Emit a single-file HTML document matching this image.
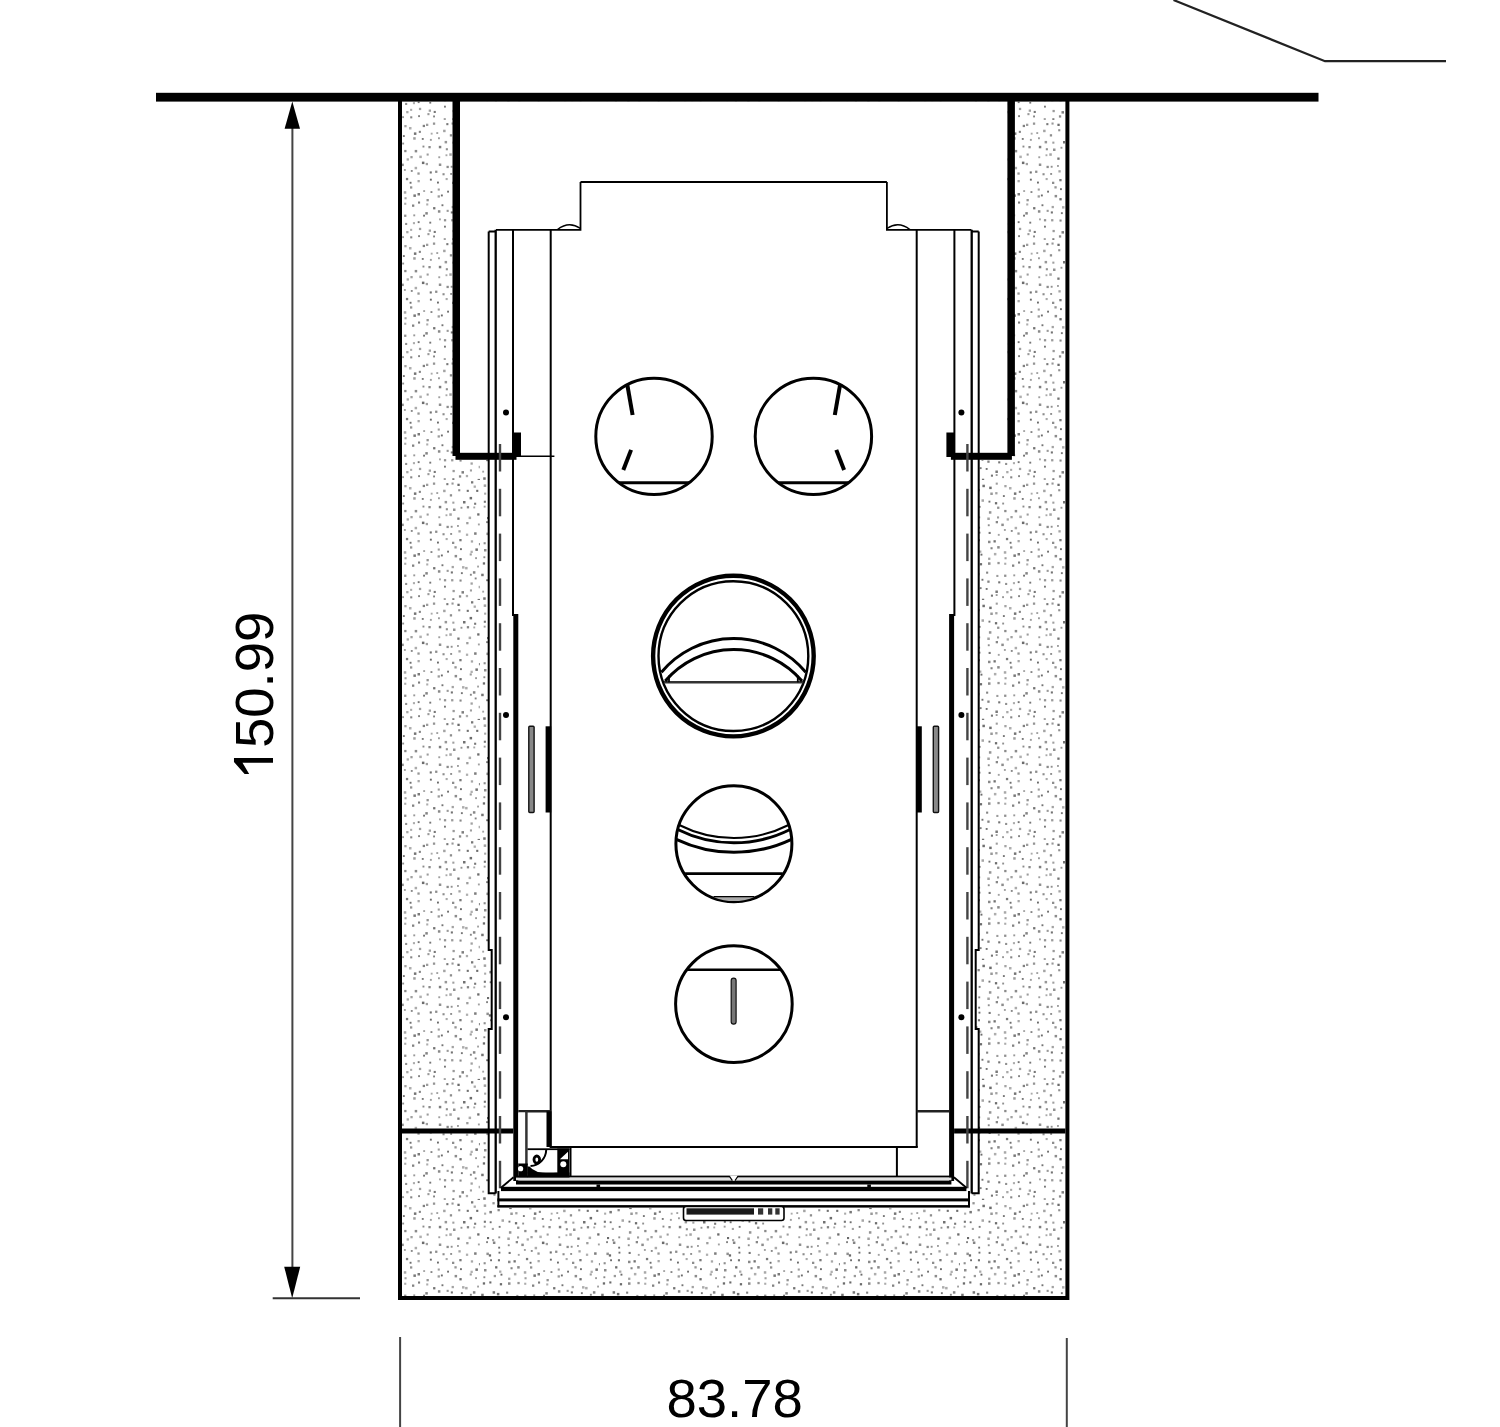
<!DOCTYPE html>
<html><head><meta charset="utf-8"><style>html,body{margin:0;padding:0;background:#fff;overflow:hidden}svg{display:block}text{font-family:"Liberation Sans",sans-serif}</style></head>
<body><svg width="1500" height="1427" viewBox="0 0 1500 1427"><defs><pattern id="st" width="120" height="120" patternUnits="userSpaceOnUse"><rect x="3.7" y="4.4" width="2.5" height="2.5" fill="rgb(162,162,162)"/><rect x="4.1" y="12.6" width="2.1" height="2.1" fill="rgb(170,170,170)"/><rect x="3.8" y="20.7" width="2.1" height="2.1" fill="rgb(117,117,117)"/><rect x="3.7" y="25.7" width="1.9" height="1.9" fill="rgb(155,155,155)"/><rect x="7.0" y="37.0" width="2.1" height="2.1" fill="rgb(106,106,106)"/><rect x="6.1" y="41.2" width="1.9" height="1.9" fill="rgb(129,129,129)"/><rect x="6.4" y="52.6" width="2.5" height="2.5" fill="rgb(146,146,146)"/><rect x="3.6" y="62.2" width="2.1" height="2.1" fill="rgb(142,142,142)"/><rect x="4.0" y="69.0" width="2.5" height="2.5" fill="rgb(140,140,140)"/><rect x="3.4" y="76.3" width="1.9" height="1.9" fill="rgb(137,137,137)"/><rect x="2.8" y="82.3" width="2.3" height="2.3" fill="rgb(108,108,108)"/><rect x="1.2" y="93.7" width="2.5" height="2.5" fill="rgb(118,118,118)"/><rect x="6.2" y="99.3" width="1.9" height="1.9" fill="rgb(105,105,105)"/><rect x="2.2" y="110.7" width="1.9" height="1.9" fill="rgb(165,165,165)"/><rect x="3.2" y="117.3" width="2.5" height="2.5" fill="rgb(114,114,114)"/><rect x="12.4" y="2.1" width="2.3" height="2.3" fill="rgb(148,148,148)"/><rect x="9.4" y="10.9" width="2.5" height="2.5" fill="rgb(120,120,120)"/><rect x="9.7" y="21.3" width="1.9" height="1.9" fill="rgb(112,112,112)"/><rect x="11.8" y="27.9" width="2.1" height="2.1" fill="rgb(162,162,162)"/><rect x="12.1" y="39.1" width="2.1" height="2.1" fill="rgb(158,158,158)"/><rect x="12.9" y="41.5" width="2.5" height="2.5" fill="rgb(132,132,132)"/><rect x="8.8" y="54.3" width="2.3" height="2.3" fill="rgb(107,107,107)"/><rect x="10.1" y="59.3" width="1.9" height="1.9" fill="rgb(110,110,110)"/><rect x="15.1" y="66.2" width="2.3" height="2.3" fill="rgb(106,106,106)"/><rect x="13.7" y="74.9" width="2.3" height="2.3" fill="rgb(154,154,154)"/><rect x="9.3" y="81.4" width="2.1" height="2.1" fill="rgb(106,106,106)"/><rect x="12.6" y="91.2" width="2.5" height="2.5" fill="rgb(121,121,121)"/><rect x="14.9" y="99.9" width="2.1" height="2.1" fill="rgb(154,154,154)"/><rect x="10.0" y="105.8" width="2.1" height="2.1" fill="rgb(136,136,136)"/><rect x="13.4" y="113.8" width="2.1" height="2.1" fill="rgb(154,154,154)"/><rect x="22.4" y="4.7" width="2.5" height="2.5" fill="rgb(111,111,111)"/><rect x="17.5" y="9.0" width="2.3" height="2.3" fill="rgb(135,135,135)"/><rect x="21.5" y="19.3" width="2.5" height="2.5" fill="rgb(167,167,167)"/><rect x="18.7" y="25.9" width="1.9" height="1.9" fill="rgb(121,121,121)"/><rect x="18.3" y="36.4" width="1.9" height="1.9" fill="rgb(140,140,140)"/><rect x="18.2" y="46.7" width="1.9" height="1.9" fill="rgb(113,113,113)"/><rect x="18.5" y="51.7" width="1.9" height="1.9" fill="rgb(110,110,110)"/><rect x="17.9" y="59.2" width="2.1" height="2.1" fill="rgb(116,116,116)"/><rect x="19.1" y="70.5" width="2.3" height="2.3" fill="rgb(171,171,171)"/><rect x="20.5" y="73.7" width="1.9" height="1.9" fill="rgb(107,107,107)"/><rect x="19.8" y="83.1" width="2.3" height="2.3" fill="rgb(109,109,109)"/><rect x="16.9" y="92.9" width="2.5" height="2.5" fill="rgb(113,113,113)"/><rect x="21.5" y="98.8" width="1.9" height="1.9" fill="rgb(114,114,114)"/><rect x="19.7" y="107.2" width="1.9" height="1.9" fill="rgb(121,121,121)"/><rect x="21.9" y="118.7" width="2.3" height="2.3" fill="rgb(115,115,115)"/><rect x="29.2" y="6.6" width="2.5" height="2.5" fill="rgb(108,108,108)"/><rect x="30.3" y="12.5" width="2.5" height="2.5" fill="rgb(153,153,153)"/><rect x="28.5" y="20.7" width="1.9" height="1.9" fill="rgb(116,116,116)"/><rect x="28.9" y="31.2" width="2.5" height="2.5" fill="rgb(147,147,147)"/><rect x="27.3" y="37.5" width="2.5" height="2.5" fill="rgb(161,161,161)"/><rect x="27.8" y="44.3" width="1.9" height="1.9" fill="rgb(144,144,144)"/><rect x="28.6" y="51.9" width="2.1" height="2.1" fill="rgb(119,119,119)"/><rect x="28.0" y="60.7" width="2.5" height="2.5" fill="rgb(137,137,137)"/><rect x="30.5" y="67.2" width="2.1" height="2.1" fill="rgb(130,130,130)"/><rect x="28.1" y="77.6" width="2.3" height="2.3" fill="rgb(161,161,161)"/><rect x="28.0" y="82.3" width="2.5" height="2.5" fill="rgb(137,137,137)"/><rect x="26.1" y="91.6" width="2.1" height="2.1" fill="rgb(132,132,132)"/><rect x="27.3" y="100.5" width="2.3" height="2.3" fill="rgb(131,131,131)"/><rect x="25.7" y="108.0" width="1.9" height="1.9" fill="rgb(113,113,113)"/><rect x="30.9" y="114.6" width="2.1" height="2.1" fill="rgb(119,119,119)"/><rect x="35.7" y="2.6" width="2.1" height="2.1" fill="rgb(157,157,157)"/><rect x="35.2" y="12.1" width="2.3" height="2.3" fill="rgb(162,162,162)"/><rect x="34.9" y="22.1" width="2.3" height="2.3" fill="rgb(110,110,110)"/><rect x="37.1" y="26.6" width="2.3" height="2.3" fill="rgb(144,144,144)"/><rect x="37.0" y="36.4" width="2.1" height="2.1" fill="rgb(156,156,156)"/><rect x="35.7" y="41.0" width="2.3" height="2.3" fill="rgb(135,135,135)"/><rect x="37.8" y="53.9" width="1.9" height="1.9" fill="rgb(162,162,162)"/><rect x="33.5" y="60.2" width="2.3" height="2.3" fill="rgb(114,114,114)"/><rect x="37.2" y="66.1" width="2.5" height="2.5" fill="rgb(137,137,137)"/><rect x="33.9" y="72.9" width="2.5" height="2.5" fill="rgb(173,173,173)"/><rect x="37.4" y="81.9" width="2.3" height="2.3" fill="rgb(149,149,149)"/><rect x="36.3" y="94.9" width="2.1" height="2.1" fill="rgb(155,155,155)"/><rect x="38.2" y="101.3" width="2.1" height="2.1" fill="rgb(116,116,116)"/><rect x="35.4" y="110.5" width="2.5" height="2.5" fill="rgb(121,121,121)"/><rect x="35.7" y="114.1" width="1.9" height="1.9" fill="rgb(153,153,153)"/><rect x="44.3" y="5.0" width="2.3" height="2.3" fill="rgb(164,164,164)"/><rect x="42.9" y="15.1" width="1.9" height="1.9" fill="rgb(120,120,120)"/><rect x="42.2" y="22.6" width="1.9" height="1.9" fill="rgb(144,144,144)"/><rect x="44.2" y="29.9" width="2.3" height="2.3" fill="rgb(138,138,138)"/><rect x="46.6" y="38.3" width="2.3" height="2.3" fill="rgb(169,169,169)"/><rect x="41.3" y="43.6" width="2.5" height="2.5" fill="rgb(140,140,140)"/><rect x="43.9" y="49.0" width="1.9" height="1.9" fill="rgb(159,159,159)"/><rect x="45.9" y="57.9" width="2.3" height="2.3" fill="rgb(122,122,122)"/><rect x="43.8" y="71.2" width="2.5" height="2.5" fill="rgb(168,168,168)"/><rect x="44.5" y="77.2" width="2.1" height="2.1" fill="rgb(161,161,161)"/><rect x="44.2" y="82.7" width="2.1" height="2.1" fill="rgb(171,171,171)"/><rect x="44.1" y="94.6" width="2.3" height="2.3" fill="rgb(144,144,144)"/><rect x="45.1" y="102.9" width="2.1" height="2.1" fill="rgb(143,143,143)"/><rect x="46.2" y="111.0" width="2.3" height="2.3" fill="rgb(168,168,168)"/><rect x="42.1" y="116.2" width="1.9" height="1.9" fill="rgb(153,153,153)"/><rect x="49.0" y="7.0" width="2.5" height="2.5" fill="rgb(174,174,174)"/><rect x="53.9" y="12.4" width="2.5" height="2.5" fill="rgb(116,116,116)"/><rect x="53.2" y="17.2" width="2.5" height="2.5" fill="rgb(157,157,157)"/><rect x="54.7" y="29.9" width="2.5" height="2.5" fill="rgb(139,139,139)"/><rect x="50.4" y="36.0" width="2.3" height="2.3" fill="rgb(160,160,160)"/><rect x="54.6" y="46.8" width="2.5" height="2.5" fill="rgb(172,172,172)"/><rect x="50.8" y="50.0" width="1.9" height="1.9" fill="rgb(138,138,138)"/><rect x="49.6" y="61.8" width="1.9" height="1.9" fill="rgb(109,109,109)"/><rect x="50.0" y="66.3" width="2.3" height="2.3" fill="rgb(146,146,146)"/><rect x="53.4" y="74.4" width="2.5" height="2.5" fill="rgb(118,118,118)"/><rect x="52.0" y="84.5" width="2.3" height="2.3" fill="rgb(130,130,130)"/><rect x="53.3" y="94.4" width="1.9" height="1.9" fill="rgb(153,153,153)"/><rect x="52.9" y="102.1" width="2.1" height="2.1" fill="rgb(173,173,173)"/><rect x="50.1" y="108.8" width="2.1" height="2.1" fill="rgb(172,172,172)"/><rect x="50.2" y="116.3" width="2.1" height="2.1" fill="rgb(134,134,134)"/><rect x="62.7" y="4.8" width="2.3" height="2.3" fill="rgb(128,128,128)"/><rect x="58.8" y="10.8" width="2.1" height="2.1" fill="rgb(132,132,132)"/><rect x="61.8" y="18.0" width="1.9" height="1.9" fill="rgb(122,122,122)"/><rect x="62.5" y="25.6" width="1.9" height="1.9" fill="rgb(138,138,138)"/><rect x="59.3" y="35.6" width="2.5" height="2.5" fill="rgb(174,174,174)"/><rect x="61.9" y="41.6" width="2.5" height="2.5" fill="rgb(107,107,107)"/><rect x="57.4" y="52.4" width="2.3" height="2.3" fill="rgb(151,151,151)"/><rect x="57.5" y="60.0" width="2.3" height="2.3" fill="rgb(169,169,169)"/><rect x="63.2" y="70.1" width="1.9" height="1.9" fill="rgb(166,166,166)"/><rect x="57.5" y="73.0" width="2.5" height="2.5" fill="rgb(123,123,123)"/><rect x="58.0" y="81.5" width="2.1" height="2.1" fill="rgb(125,125,125)"/><rect x="63.1" y="94.7" width="1.9" height="1.9" fill="rgb(112,112,112)"/><rect x="57.7" y="101.2" width="1.9" height="1.9" fill="rgb(117,117,117)"/><rect x="58.9" y="107.8" width="2.3" height="2.3" fill="rgb(160,160,160)"/><rect x="58.1" y="115.2" width="1.9" height="1.9" fill="rgb(130,130,130)"/><rect x="66.0" y="3.7" width="2.3" height="2.3" fill="rgb(156,156,156)"/><rect x="70.7" y="12.7" width="1.9" height="1.9" fill="rgb(170,170,170)"/><rect x="69.9" y="18.9" width="1.9" height="1.9" fill="rgb(156,156,156)"/><rect x="68.4" y="26.0" width="2.3" height="2.3" fill="rgb(138,138,138)"/><rect x="66.6" y="33.5" width="2.1" height="2.1" fill="rgb(156,156,156)"/><rect x="65.7" y="42.9" width="2.3" height="2.3" fill="rgb(160,160,160)"/><rect x="69.7" y="51.4" width="2.1" height="2.1" fill="rgb(114,114,114)"/><rect x="69.9" y="58.7" width="1.9" height="1.9" fill="rgb(106,106,106)"/><rect x="70.5" y="71.1" width="1.9" height="1.9" fill="rgb(134,134,134)"/><rect x="66.5" y="79.0" width="2.3" height="2.3" fill="rgb(148,148,148)"/><rect x="66.2" y="83.4" width="2.1" height="2.1" fill="rgb(173,173,173)"/><rect x="65.3" y="92.1" width="2.5" height="2.5" fill="rgb(132,132,132)"/><rect x="69.3" y="101.7" width="1.9" height="1.9" fill="rgb(119,119,119)"/><rect x="68.7" y="109.5" width="2.3" height="2.3" fill="rgb(161,161,161)"/><rect x="67.4" y="113.1" width="2.1" height="2.1" fill="rgb(153,153,153)"/><rect x="72.9" y="2.5" width="2.3" height="2.3" fill="rgb(148,148,148)"/><rect x="76.3" y="12.1" width="1.9" height="1.9" fill="rgb(161,161,161)"/><rect x="78.0" y="17.3" width="1.9" height="1.9" fill="rgb(154,154,154)"/><rect x="78.8" y="25.8" width="2.5" height="2.5" fill="rgb(126,126,126)"/><rect x="78.3" y="36.3" width="1.9" height="1.9" fill="rgb(159,159,159)"/><rect x="78.8" y="43.5" width="2.5" height="2.5" fill="rgb(144,144,144)"/><rect x="75.1" y="50.6" width="2.3" height="2.3" fill="rgb(141,141,141)"/><rect x="77.0" y="61.6" width="1.9" height="1.9" fill="rgb(106,106,106)"/><rect x="77.7" y="68.5" width="2.1" height="2.1" fill="rgb(157,157,157)"/><rect x="77.6" y="75.3" width="2.3" height="2.3" fill="rgb(155,155,155)"/><rect x="73.1" y="87.1" width="2.3" height="2.3" fill="rgb(114,114,114)"/><rect x="77.9" y="90.2" width="2.5" height="2.5" fill="rgb(137,137,137)"/><rect x="79.0" y="98.4" width="1.9" height="1.9" fill="rgb(164,164,164)"/><rect x="73.7" y="110.9" width="2.1" height="2.1" fill="rgb(119,119,119)"/><rect x="73.1" y="115.5" width="1.9" height="1.9" fill="rgb(131,131,131)"/><rect x="86.3" y="3.1" width="2.1" height="2.1" fill="rgb(120,120,120)"/><rect x="83.1" y="9.7" width="2.5" height="2.5" fill="rgb(163,163,163)"/><rect x="84.6" y="20.9" width="2.5" height="2.5" fill="rgb(151,151,151)"/><rect x="85.8" y="28.2" width="2.1" height="2.1" fill="rgb(142,142,142)"/><rect x="85.5" y="34.3" width="1.9" height="1.9" fill="rgb(169,169,169)"/><rect x="86.5" y="45.8" width="2.3" height="2.3" fill="rgb(140,140,140)"/><rect x="82.5" y="53.2" width="2.1" height="2.1" fill="rgb(140,140,140)"/><rect x="85.6" y="58.0" width="2.1" height="2.1" fill="rgb(169,169,169)"/><rect x="87.1" y="70.7" width="1.9" height="1.9" fill="rgb(112,112,112)"/><rect x="80.9" y="74.5" width="1.9" height="1.9" fill="rgb(109,109,109)"/><rect x="81.5" y="84.3" width="1.9" height="1.9" fill="rgb(116,116,116)"/><rect x="86.6" y="89.8" width="2.1" height="2.1" fill="rgb(152,152,152)"/><rect x="83.9" y="99.1" width="2.3" height="2.3" fill="rgb(148,148,148)"/><rect x="84.0" y="105.7" width="1.9" height="1.9" fill="rgb(120,120,120)"/><rect x="83.7" y="118.1" width="2.1" height="2.1" fill="rgb(161,161,161)"/><rect x="91.5" y="2.5" width="2.1" height="2.1" fill="rgb(152,152,152)"/><rect x="89.8" y="14.2" width="2.3" height="2.3" fill="rgb(142,142,142)"/><rect x="92.3" y="21.6" width="2.1" height="2.1" fill="rgb(159,159,159)"/><rect x="93.0" y="28.5" width="2.5" height="2.5" fill="rgb(146,146,146)"/><rect x="89.3" y="33.3" width="2.5" height="2.5" fill="rgb(164,164,164)"/><rect x="90.7" y="45.8" width="1.9" height="1.9" fill="rgb(144,144,144)"/><rect x="90.2" y="53.0" width="1.9" height="1.9" fill="rgb(143,143,143)"/><rect x="92.0" y="61.7" width="2.3" height="2.3" fill="rgb(141,141,141)"/><rect x="94.4" y="66.2" width="2.3" height="2.3" fill="rgb(151,151,151)"/><rect x="94.6" y="74.9" width="2.5" height="2.5" fill="rgb(140,140,140)"/><rect x="91.6" y="85.9" width="2.3" height="2.3" fill="rgb(163,163,163)"/><rect x="90.8" y="91.4" width="2.1" height="2.1" fill="rgb(115,115,115)"/><rect x="91.1" y="99.1" width="2.3" height="2.3" fill="rgb(155,155,155)"/><rect x="92.5" y="109.9" width="2.3" height="2.3" fill="rgb(154,154,154)"/><rect x="92.3" y="118.2" width="2.1" height="2.1" fill="rgb(127,127,127)"/><rect x="97.4" y="3.7" width="2.3" height="2.3" fill="rgb(107,107,107)"/><rect x="98.2" y="9.2" width="2.1" height="2.1" fill="rgb(142,142,142)"/><rect x="103.0" y="21.0" width="2.5" height="2.5" fill="rgb(113,113,113)"/><rect x="100.5" y="26.8" width="1.9" height="1.9" fill="rgb(147,147,147)"/><rect x="97.3" y="37.5" width="2.3" height="2.3" fill="rgb(115,115,115)"/><rect x="97.0" y="45.0" width="1.9" height="1.9" fill="rgb(159,159,159)"/><rect x="98.4" y="50.2" width="2.3" height="2.3" fill="rgb(163,163,163)"/><rect x="99.3" y="59.0" width="2.3" height="2.3" fill="rgb(122,122,122)"/><rect x="100.0" y="68.2" width="1.9" height="1.9" fill="rgb(110,110,110)"/><rect x="99.4" y="78.1" width="2.3" height="2.3" fill="rgb(105,105,105)"/><rect x="102.0" y="86.1" width="2.5" height="2.5" fill="rgb(174,174,174)"/><rect x="100.9" y="92.2" width="1.9" height="1.9" fill="rgb(119,119,119)"/><rect x="99.5" y="99.5" width="2.1" height="2.1" fill="rgb(136,136,136)"/><rect x="101.5" y="111.1" width="2.5" height="2.5" fill="rgb(126,126,126)"/><rect x="98.9" y="115.3" width="2.3" height="2.3" fill="rgb(140,140,140)"/><rect x="111.0" y="1.2" width="2.3" height="2.3" fill="rgb(119,119,119)"/><rect x="106.7" y="9.8" width="2.1" height="2.1" fill="rgb(112,112,112)"/><rect x="109.6" y="16.9" width="2.5" height="2.5" fill="rgb(109,109,109)"/><rect x="106.8" y="26.1" width="2.3" height="2.3" fill="rgb(132,132,132)"/><rect x="108.6" y="36.6" width="2.5" height="2.5" fill="rgb(170,170,170)"/><rect x="106.2" y="42.0" width="2.3" height="2.3" fill="rgb(156,156,156)"/><rect x="105.9" y="53.6" width="2.3" height="2.3" fill="rgb(175,175,175)"/><rect x="110.8" y="60.3" width="2.3" height="2.3" fill="rgb(167,167,167)"/><rect x="110.5" y="70.7" width="2.3" height="2.3" fill="rgb(175,175,175)"/><rect x="109.7" y="73.4" width="2.1" height="2.1" fill="rgb(156,156,156)"/><rect x="105.1" y="86.9" width="2.5" height="2.5" fill="rgb(172,172,172)"/><rect x="109.9" y="93.8" width="1.9" height="1.9" fill="rgb(135,135,135)"/><rect x="110.5" y="102.4" width="2.3" height="2.3" fill="rgb(162,162,162)"/><rect x="109.9" y="109.4" width="2.1" height="2.1" fill="rgb(158,158,158)"/><rect x="105.8" y="114.9" width="2.3" height="2.3" fill="rgb(171,171,171)"/><rect x="113.6" y="5.5" width="2.3" height="2.3" fill="rgb(171,171,171)"/><rect x="116.2" y="9.8" width="2.1" height="2.1" fill="rgb(105,105,105)"/><rect x="114.1" y="22.7" width="2.1" height="2.1" fill="rgb(121,121,121)"/><rect x="113.3" y="26.5" width="1.9" height="1.9" fill="rgb(166,166,166)"/><rect x="117.2" y="33.3" width="2.3" height="2.3" fill="rgb(107,107,107)"/><rect x="117.9" y="43.5" width="1.9" height="1.9" fill="rgb(161,161,161)"/><rect x="114.1" y="52.3" width="2.5" height="2.5" fill="rgb(125,125,125)"/><rect x="118.9" y="63.0" width="2.3" height="2.3" fill="rgb(144,144,144)"/><rect x="115.4" y="68.4" width="2.5" height="2.5" fill="rgb(113,113,113)"/><rect x="115.1" y="77.2" width="1.9" height="1.9" fill="rgb(155,155,155)"/><rect x="117.1" y="85.6" width="1.9" height="1.9" fill="rgb(161,161,161)"/><rect x="112.9" y="91.2" width="2.5" height="2.5" fill="rgb(135,135,135)"/><rect x="114.7" y="97.5" width="1.9" height="1.9" fill="rgb(131,131,131)"/><rect x="118.6" y="105.8" width="2.5" height="2.5" fill="rgb(174,174,174)"/><rect x="117.6" y="118.9" width="2.5" height="2.5" fill="rgb(116,116,116)"/></pattern></defs>
<rect width="1500" height="1427" fill="#fff"/>
<rect x="402" y="101.5" width="663" height="1194.5" fill="url(#st)"/>
<rect x="460" y="101.5" width="547.4" height="358.5" fill="#fff"/>
<path d="M488.7,455 V950 H491.7 V1029 H488.7 V1193.4 H497.4 V1208 H970.0 V1193.4 H978.7 V1029 H975.7 V950 H978.7 V455 Z" fill="#fff"/>
<rect x="398" y="93" width="4" height="1207" fill="#000" />
<rect x="452.5" y="93" width="7.5" height="363" fill="#000" />
<rect x="455.5" y="452.8" width="61.0" height="7.0" fill="#000" />
<rect x="513.2" y="432.5" width="7.8" height="24.5" fill="#000" />
<rect x="402" y="1128.5" width="111.3" height="5.0" fill="#000" />
<path d="M488.7,231.5 L488.7,950 L491.7,950 L491.7,1029 L488.7,1029 L488.7,1193.2 L495.7,1193.2" stroke="#000" stroke-width="2" fill="none"/>
<line x1="488.7" y1="231.5" x2="496" y2="231.5" stroke="#000" stroke-width="2" />
<line x1="495.7" y1="229.8" x2="495.7" y2="1193.4" stroke="#000" stroke-width="2.3" />
<line x1="500" y1="444.0" x2="500" y2="471.5" stroke="#444" stroke-width="2.4" />
<line x1="500" y1="488.8" x2="500" y2="516.3" stroke="#444" stroke-width="2.4" />
<line x1="500" y1="533.6" x2="500" y2="561.1" stroke="#444" stroke-width="2.4" />
<line x1="500" y1="578.4" x2="500" y2="605.9" stroke="#444" stroke-width="2.4" />
<line x1="500" y1="623.1999999999999" x2="500" y2="650.6999999999999" stroke="#444" stroke-width="2.4" />
<line x1="500" y1="667.9999999999999" x2="500" y2="695.4999999999999" stroke="#444" stroke-width="2.4" />
<line x1="500" y1="712.7999999999998" x2="500" y2="740.2999999999998" stroke="#444" stroke-width="2.4" />
<line x1="500" y1="757.5999999999998" x2="500" y2="785.0999999999998" stroke="#444" stroke-width="2.4" />
<line x1="500" y1="802.3999999999997" x2="500" y2="829.8999999999997" stroke="#444" stroke-width="2.4" />
<line x1="500" y1="847.1999999999997" x2="500" y2="874.6999999999997" stroke="#444" stroke-width="2.4" />
<line x1="500" y1="891.9999999999997" x2="500" y2="919.4999999999997" stroke="#444" stroke-width="2.4" />
<line x1="500" y1="936.7999999999996" x2="500" y2="964.2999999999996" stroke="#444" stroke-width="2.4" />
<line x1="500" y1="981.5999999999996" x2="500" y2="1009.0999999999996" stroke="#444" stroke-width="2.4" />
<line x1="500" y1="1026.3999999999996" x2="500" y2="1053.8999999999996" stroke="#444" stroke-width="2.4" />
<line x1="500" y1="1071.1999999999996" x2="500" y2="1098.6999999999996" stroke="#444" stroke-width="2.4" />
<line x1="500" y1="1115.9999999999995" x2="500" y2="1143.4999999999995" stroke="#444" stroke-width="2.4" />
<line x1="500" y1="1160.7999999999995" x2="500" y2="1188.2999999999995" stroke="#444" stroke-width="2.4" />
<line x1="513" y1="229.8" x2="513" y2="616" stroke="#000" stroke-width="2" />
<rect x="513.3" y="614" width="5.0" height="567" fill="#000" />
<circle cx="506" cy="412.5" r="3" fill="#000"/>
<circle cx="506" cy="715.1" r="3" fill="#000"/>
<circle cx="506" cy="1017.2" r="3" fill="#000"/>
<line x1="550.7" y1="229.8" x2="550.7" y2="1147" stroke="#000" stroke-width="2" />
<rect x="528.8" y="726.3" width="5.3" height="86.2" fill="#888" stroke="#111" stroke-width="1.4" rx="1"/>
<rect x="545.6" y="726.3" width="5.6" height="86.2" fill="#000" />
<path d="M496,229.8 L580.5,229.8 L580.5,182" stroke="#000" stroke-width="1.8" fill="none"/>
<path d="M557.5,229.5 Q569,220.5 580.5,228.5" stroke="#000" stroke-width="1.5" fill="none"/>
<line x1="518.3" y1="1111.3" x2="550.7" y2="1111.3" stroke="#222" stroke-width="2.5" />
<line x1="570.5" y1="1147" x2="570.5" y2="1176.5" stroke="#000" stroke-width="2" />
<path d="M498.4,1191 V1207.2" stroke="#000" stroke-width="2" fill="none"/>
<line x1="500.7" y1="1188" x2="513.5" y2="1177.3" stroke="#000" stroke-width="1.8" />
<rect x="1065.4" y="93" width="4.0" height="1207" fill="#000" />
<rect x="1007.4" y="93" width="7.5" height="363" fill="#000" />
<rect x="950.9" y="452.8" width="61.0" height="7.0" fill="#000" />
<rect x="946.4" y="432.5" width="7.8" height="24.5" fill="#000" />
<rect x="954.1" y="1128.5" width="111.3" height="5.0" fill="#000" />
<path d="M978.7,231.5 L978.7,950 L975.7,950 L975.7,1029 L978.7,1029 L978.7,1193.2 L971.7,1193.2" stroke="#000" stroke-width="2" fill="none"/>
<line x1="978.7" y1="231.5" x2="971.4" y2="231.5" stroke="#000" stroke-width="2" />
<line x1="971.7" y1="229.8" x2="971.7" y2="1193.4" stroke="#000" stroke-width="2.3" />
<line x1="967.4" y1="444.0" x2="967.4" y2="471.5" stroke="#444" stroke-width="2.4" />
<line x1="967.4" y1="488.8" x2="967.4" y2="516.3" stroke="#444" stroke-width="2.4" />
<line x1="967.4" y1="533.6" x2="967.4" y2="561.1" stroke="#444" stroke-width="2.4" />
<line x1="967.4" y1="578.4" x2="967.4" y2="605.9" stroke="#444" stroke-width="2.4" />
<line x1="967.4" y1="623.1999999999999" x2="967.4" y2="650.6999999999999" stroke="#444" stroke-width="2.4" />
<line x1="967.4" y1="667.9999999999999" x2="967.4" y2="695.4999999999999" stroke="#444" stroke-width="2.4" />
<line x1="967.4" y1="712.7999999999998" x2="967.4" y2="740.2999999999998" stroke="#444" stroke-width="2.4" />
<line x1="967.4" y1="757.5999999999998" x2="967.4" y2="785.0999999999998" stroke="#444" stroke-width="2.4" />
<line x1="967.4" y1="802.3999999999997" x2="967.4" y2="829.8999999999997" stroke="#444" stroke-width="2.4" />
<line x1="967.4" y1="847.1999999999997" x2="967.4" y2="874.6999999999997" stroke="#444" stroke-width="2.4" />
<line x1="967.4" y1="891.9999999999997" x2="967.4" y2="919.4999999999997" stroke="#444" stroke-width="2.4" />
<line x1="967.4" y1="936.7999999999996" x2="967.4" y2="964.2999999999996" stroke="#444" stroke-width="2.4" />
<line x1="967.4" y1="981.5999999999996" x2="967.4" y2="1009.0999999999996" stroke="#444" stroke-width="2.4" />
<line x1="967.4" y1="1026.3999999999996" x2="967.4" y2="1053.8999999999996" stroke="#444" stroke-width="2.4" />
<line x1="967.4" y1="1071.1999999999996" x2="967.4" y2="1098.6999999999996" stroke="#444" stroke-width="2.4" />
<line x1="967.4" y1="1115.9999999999995" x2="967.4" y2="1143.4999999999995" stroke="#444" stroke-width="2.4" />
<line x1="967.4" y1="1160.7999999999995" x2="967.4" y2="1188.2999999999995" stroke="#444" stroke-width="2.4" />
<line x1="954.4" y1="229.8" x2="954.4" y2="616" stroke="#000" stroke-width="2" />
<rect x="949.1" y="614" width="5.0" height="567" fill="#000" />
<circle cx="961.4" cy="412.5" r="3" fill="#000"/>
<circle cx="961.4" cy="715.1" r="3" fill="#000"/>
<circle cx="961.4" cy="1017.2" r="3" fill="#000"/>
<line x1="916.7" y1="229.8" x2="916.7" y2="1147" stroke="#000" stroke-width="2" />
<rect x="933.3" y="726.3" width="5.3" height="86.2" fill="#888" stroke="#111" stroke-width="1.4" rx="1"/>
<rect x="916.2" y="726.3" width="5.6" height="86.2" fill="#000" />
<path d="M971.4,229.8 L886.9,229.8 L886.9,182" stroke="#000" stroke-width="1.8" fill="none"/>
<path d="M909.9,229.5 Q898.4,220.5 886.9,228.5" stroke="#000" stroke-width="1.5" fill="none"/>
<line x1="949.1" y1="1111.3" x2="916.7" y2="1111.3" stroke="#222" stroke-width="2.5" />
<line x1="896.9" y1="1147" x2="896.9" y2="1176.5" stroke="#000" stroke-width="2" />
<path d="M969.0,1191 V1207.2" stroke="#000" stroke-width="2" fill="none"/>
<line x1="966.7" y1="1188" x2="953.9" y2="1177.3" stroke="#000" stroke-width="1.8" />
<line x1="580.5" y1="182" x2="886.9" y2="182" stroke="#000" stroke-width="1.8"/>
<line x1="549.6" y1="1147" x2="917.8" y2="1147" stroke="#000" stroke-width="2"/>
<rect x="516" y="1175.6" width="435.4" height="2.0" fill="#000"/>
<rect x="516" y="1177.6" width="435.4" height="2.8" fill="#e2e2e2"/>
<rect x="516" y="1180.6" width="435.4" height="3.9" fill="#000"/>
<rect x="501" y="1186.8" width="465.4" height="4.3" fill="#000"/>
<rect x="596.5" y="1184.5" width="3.6" height="2.6" fill="#000"/>
<rect x="867.3" y="1184.5" width="3.6" height="2.6" fill="#000"/>
<rect x="497.4" y="1198.4" width="472.6" height="3.0" fill="#000"/>
<rect x="497.4" y="1205.1" width="472.6" height="2.5" fill="#000"/>
<path d="M729.3,1175.4 L738.1,1175.4 L735.2,1180.6 L732.2,1180.6 Z" fill="#fff"/>
<path d="M729.3,1176 L732.4,1180.6 M738.1,1176 L735,1180.6" stroke="#000" stroke-width="1.2" fill="none"/>
<rect x="398" y="1296" width="671" height="4" fill="#000"/>
<rect x="156" y="92.8" width="1162.5" height="8.8" fill="#000"/>
<polyline points="1173.5,0 1325,61.2 1446,61.2" fill="none" stroke="#222" stroke-width="2.2"/>
<rect x="546.5" y="1111.3" width="5" height="35.7" fill="#000"/>
<line x1="516" y1="456.3" x2="554.4" y2="456.3" stroke="#000" stroke-width="1.5"/>
<circle cx="654" cy="436.4" r="58.2" stroke="#000" stroke-width="3" fill="none"/>
<line x1="618.9" y1="482.8" x2="689.1" y2="482.8" stroke="#000" stroke-width="3" stroke-linecap="butt"/>
<line x1="627.2" y1="384.1" x2="632.6" y2="415" stroke="#000" stroke-width="4" stroke-linecap="butt"/>
<line x1="631.1" y1="449.9" x2="623.3" y2="470" stroke="#000" stroke-width="4" stroke-linecap="butt"/>
<circle cx="813.4" cy="436.4" r="58.2" stroke="#000" stroke-width="3" fill="none"/>
<line x1="848.5" y1="482.8" x2="778.3" y2="482.8" stroke="#000" stroke-width="3" stroke-linecap="butt"/>
<line x1="840.2" y1="384.1" x2="834.8" y2="415" stroke="#000" stroke-width="4" stroke-linecap="butt"/>
<line x1="836.3" y1="449.9" x2="844.1" y2="470" stroke="#000" stroke-width="4" stroke-linecap="butt"/>
<circle cx="733.4" cy="656.1" r="80.3" stroke="#000" stroke-width="4.4" fill="none"/>
<circle cx="733.4" cy="656.1" r="74.9" stroke="#000" stroke-width="2.4" fill="none"/>
<line x1="663.9" y1="682.3" x2="803.3" y2="682.3" stroke="#333" stroke-width="2.6" stroke-linecap="butt"/>
<path d="M661.4,672.2 A94.2,94.2 0 0 1 805.8,672.2" stroke="#000" stroke-width="3" fill="none"/>
<path d="M665.2,681 A90,90 0 0 1 802,681" stroke="#000" stroke-width="3" fill="none"/>
<line x1="669" y1="675.5" x2="669" y2="682.3" stroke="#000" stroke-width="1.8" stroke-linecap="butt"/>
<line x1="797.8" y1="675.5" x2="797.8" y2="682.3" stroke="#000" stroke-width="1.8" stroke-linecap="butt"/>
<circle cx="733.9" cy="843.7" r="58" stroke="#000" stroke-width="3" fill="none"/>
<line x1="685.1" y1="873.6" x2="782.7" y2="873.6" stroke="#000" stroke-width="2.6" stroke-linecap="butt"/>
<line x1="713.7" y1="897.2" x2="754.1" y2="897.2" stroke="#000" stroke-width="2.4" stroke-linecap="butt"/>
<path d="M713.7,897.2 Q733.9,905 754.1,897.2 Z" fill="#aaa"/>
<path d="M679.2,825 A121.2,121.2 0 0 0 788.6,825" stroke="#000" stroke-width="2" fill="none"/>
<path d="M677.7,829.5 A125.4,125.4 0 0 0 790.1,829.5" stroke="#000" stroke-width="3" fill="none"/>
<path d="M676.3,839.3 A134.3,134.3 0 0 0 791.5,839.3" stroke="#000" stroke-width="3" fill="none"/>
<circle cx="733.9" cy="1004.1" r="58.3" stroke="#000" stroke-width="3" fill="none"/>
<line x1="686.6" y1="969.7" x2="781.2" y2="969.7" stroke="#000" stroke-width="2.6" stroke-linecap="butt"/>
<rect x="731.2" y="978.1" width="4.9" height="46.1" rx="2.4" fill="#777" stroke="#111" stroke-width="1.2"/>
<rect x="518.3" y="1112.5" width="7" height="51" fill="#fff"/>
<line x1="526.4" y1="1111.3" x2="526.4" y2="1165" stroke="#333" stroke-width="2.5"/>
<rect x="518.3" y="1163.5" width="9.5" height="14" fill="#000"/>
<circle cx="520.6" cy="1168.7" r="2.6" fill="#fff"/>
<rect x="527.5" y="1148.3" width="42" height="1.8" fill="#000"/>
<rect x="557.3" y="1148.5" width="12" height="28.5" fill="#000"/>
<path d="M559.9,1159.3 L568,1151.7 L568,1159.3 Z" fill="#fff"/>
<circle cx="563.3" cy="1164.3" r="3" fill="#fff"/>
<rect x="527.5" y="1172.5" width="42" height="5" fill="#000"/>
<path d="M529.5,1166.5 Q536,1175 557.3,1172.8 L557.3,1173.2 L527.5,1173.2 L527.5,1166.5 Z" fill="#000"/>
<path d="M546.2,1150 A16.5,16.5 0 0 1 530.5,1166" stroke="#000" stroke-width="2" fill="none"/>
<ellipse cx="536.8" cy="1159.6" rx="2.8" ry="3.6" fill="none" stroke="#000" stroke-width="2.8"/>
<rect x="683.5" y="1206.5" width="100.5" height="14" rx="2.5" fill="#fff" stroke="#000" stroke-width="1.6"/>
<rect x="686.5" y="1208.3" width="67.5" height="6.3" fill="#1a1a1a"/>
<rect x="758" y="1208.3" width="5.2" height="6.3" fill="#333"/><rect x="768" y="1208.3" width="4.3" height="6.3" fill="#333"/><rect x="775.3" y="1208.3" width="4.3" height="6.3" fill="#333"/>
<line x1="292.4" y1="126" x2="292.4" y2="1270" stroke="#444" stroke-width="2"/>
<polygon points="292.3,101.6 284.6,128.7 300,128.7" fill="#000"/>
<polygon points="292.2,1298.3 284.2,1266.7 300.2,1266.7" fill="#000"/>
<line x1="272.7" y1="1298.2" x2="360" y2="1298.2" stroke="#333" stroke-width="2"/>
<line x1="400.1" y1="1337" x2="400.1" y2="1427" stroke="#444" stroke-width="2"/>
<line x1="1066.8" y1="1338" x2="1066.8" y2="1427" stroke="#444" stroke-width="2"/>
<text x="734.7" y="1416.8" font-family="Liberation Sans" font-size="54.5" text-anchor="middle" fill="#000">83.78</text>
<g transform="translate(273,695) rotate(-90)"><polygon points="-63.02,0.00 -67.81,0.00 -67.81,-30.52 -79.08,-23.82 -79.08,-28.39 -66.98,-39.02 -63.02,-39.02" fill="#000"/><text x="-53.03" y="0" font-family="Liberation Sans" font-size="54.5" fill="#000">50.99</text></g>
</svg></body></html>
